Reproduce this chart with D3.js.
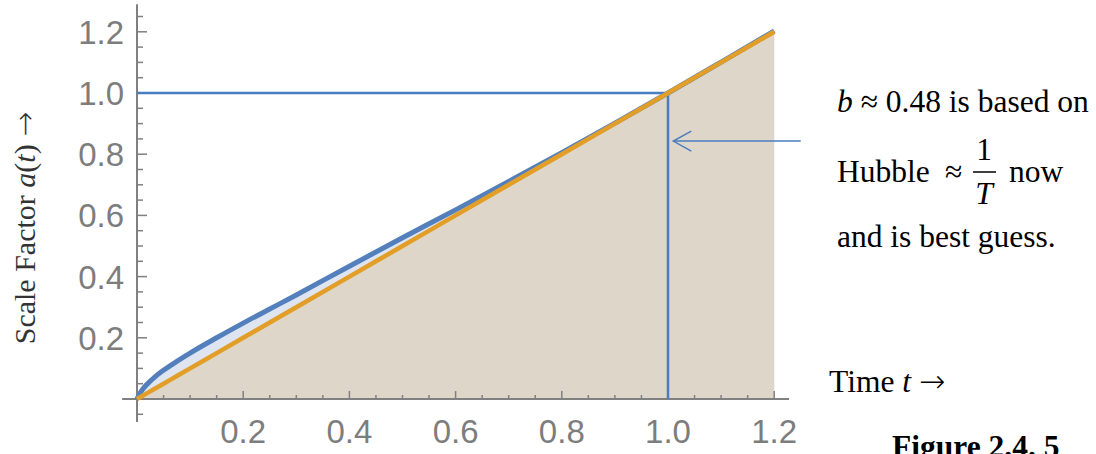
<!DOCTYPE html>
<html>
<head>
<meta charset="utf-8">
<script src="https://cdn.jsdelivr.net/npm/d3@7"></script>
<style>
  body { margin: 0; background: #fff; }
  svg { display: block; }
  .tick-label { font-family: "Liberation Sans", Arial, sans-serif; font-size: 33px; fill: #7d7d7d; }
  .note { font-family: "Liberation Serif", "Times New Roman", serif; font-size: 31.5px; fill: #000; }
  .arrow { font-family: "DejaVu Sans", sans-serif; }
</style>
</head>
<body>
<div id="chart"></div>
<script>
// time values (t) and the two scale factor series
var times = [0, 0.005, 0.01, 0.02, 0.035, 0.05, 0.075, 0.1, 0.15, 0.2, 0.25, 0.3, 0.4, 0.5, 0.6, 0.7, 0.8, 0.9, 1.0, 1.1, 1.2];
var scaleFactor = [0, 0.017, 0.03, 0.05, 0.074, 0.094, 0.123, 0.150, 0.200, 0.248, 0.294, 0.340, 0.434, 0.527, 0.618, 0.711, 0.805, 0.9015, 1.0, 1.101, 1.203];
var linearFactor = [0, 0.005, 0.01, 0.02, 0.035, 0.05, 0.075, 0.1, 0.15, 0.2, 0.25, 0.3, 0.4, 0.5, 0.6, 0.7, 0.8, 0.9, 1.0, 1.1, 1.2];

var xTickLabels = [0.2, 0.4, 0.6, 0.8, 1.0, 1.2];
var yTickLabels = [0.2, 0.4, 0.6, 0.8, 1.0, 1.2];
var nowT = 1.0;
var nowA = 1.0;
var arrowFrom = [1.25, 0.843];
var arrowTo = [1.01, 0.843];

var svgWidth = 1096;
var svgHeight = 454;

var svg = d3.select("#chart")
  .append("svg")
  .attr("width", svgWidth)
  .attr("height", svgHeight);

// scales: origin at (137, 399), one unit = 531px across, 306px up
var xScale = d3.scaleLinear().domain([0, 1]).range([137, 668]);
var yScale = d3.scaleLinear().domain([0, 1]).range([399, 93]);

var blueData = times.map((t, i) => ({ t: t, a: scaleFactor[i] }));
var orangeData = times.map((t, i) => ({ t: t, a: linearFactor[i] }));

var area = d3.area()
  .x(d => xScale(d.t))
  .y0(yScale(0))
  .y1(d => yScale(d.a))
  .curve(d3.curveMonotoneX);

var line = d3.line()
  .x(d => xScale(d.t))
  .y(d => yScale(d.a))
  .curve(d3.curveMonotoneX);

// fills first
svg.append("path").datum(blueData).attr("d", area).attr("fill", "#dfe5f0");
svg.append("path").datum(orangeData).attr("d", area).attr("fill", "#ded7c9");

// axes
var axisColor = "#808080";
svg.append("line")
  .attr("x1", xScale(-0.028)).attr("x2", xScale(1.228))
  .attr("y1", yScale(0)).attr("y2", yScale(0))
  .attr("stroke", axisColor).attr("stroke-width", 2);
svg.append("line")
  .attr("x1", xScale(0)).attr("x2", xScale(0))
  .attr("y1", yScale(1.29)).attr("y2", yScale(-0.075))
  .attr("stroke", axisColor).attr("stroke-width", 2);

// y ticks, every 0.05 with majors at 0.2
var yTickVals = d3.range(-1, 26).map(i => i * 0.05).filter(v => Math.abs(v) > 1e-9);
svg.selectAll(".ytick")
  .data(yTickVals)
  .enter()
  .append("line")
  .attr("x1", xScale(0))
  .attr("x2", d => xScale(0) + (Math.abs(d * 5 - Math.round(d * 5)) < 1e-6 ? 10 : 6))
  .attr("y1", d => yScale(d)).attr("y2", d => yScale(d))
  .attr("stroke", axisColor).attr("stroke-width", 1.5);

var xTickVals = d3.range(1, 25).map(i => i * 0.05);
svg.selectAll(".xtick")
  .data(xTickVals)
  .enter()
  .append("line")
  .attr("x1", d => xScale(d)).attr("x2", d => xScale(d))
  .attr("y1", yScale(0))
  .attr("y2", d => yScale(0) - (Math.abs(d * 5 - Math.round(d * 5)) < 1e-6 ? 8 : 4))
  .attr("stroke", axisColor).attr("stroke-width", 1.5);

svg.selectAll(".ylab")
  .data(yTickLabels)
  .enter()
  .append("text")
  .attr("class", "tick-label")
  .attr("x", xScale(0) - 13)
  .attr("y", d => yScale(d) + 12)
  .attr("text-anchor", "end")
  .text(d => d.toFixed(1));

svg.selectAll(".xlab")
  .data(xTickLabels)
  .enter()
  .append("text")
  .attr("class", "tick-label")
  .attr("x", d => xScale(d))
  .attr("y", yScale(0) + 44)
  .attr("text-anchor", "middle")
  .text(d => d.toFixed(1));

// "now" reference lines
var refBlue = "#4a7dbf";
svg.append("line")
  .attr("x1", xScale(0)).attr("x2", xScale(nowT))
  .attr("y1", yScale(nowA)).attr("y2", yScale(nowA))
  .attr("stroke", refBlue).attr("stroke-width", 2.5);
svg.append("line")
  .attr("x1", xScale(nowT)).attr("x2", xScale(nowT))
  .attr("y1", yScale(0)).attr("y2", yScale(nowA))
  .attr("stroke", refBlue).attr("stroke-width", 2.5);

// curves
svg.append("path").datum(blueData).attr("d", line)
  .attr("fill", "none").attr("stroke", "#5380bc").attr("stroke-width", 5);
svg.append("path").datum(orangeData).attr("d", line)
  .attr("fill", "none").attr("stroke", "#e29e27").attr("stroke-width", 4.5);

// annotation arrow
var ax0 = xScale(arrowFrom[0]), ay = yScale(arrowFrom[1]), ax1 = xScale(arrowTo[0]);
svg.append("line")
  .attr("x1", ax0).attr("x2", ax1).attr("y1", ay).attr("y2", ay)
  .attr("stroke", refBlue).attr("stroke-width", 1.5);
svg.append("path")
  .attr("d", `M${ax1 + 18},${ay - 10} L${ax1},${ay} L${ax1 + 18},${ay + 10}`)
  .attr("fill", "none").attr("stroke", refBlue).attr("stroke-width", 1.5);

// y axis title
var yTitle = svg.append("text")
  .attr("class", "note")
  .attr("transform", "translate(35, 228) rotate(-90)")
  .attr("text-anchor", "middle")
  .style("font-size", "30px")
  .style("fill", "#333");
yTitle.append("tspan").text("Scale Factor ");
yTitle.append("tspan").style("font-style", "italic").text("a");
yTitle.append("tspan").text("(");
yTitle.append("tspan").style("font-style", "italic").text("t");
yTitle.append("tspan").text(") ");
yTitle.append("tspan").attr("class", "arrow").style("font-weight", 200).text("\u2192");

// right hand notes
var l1 = svg.append("text").attr("class", "note").attr("x", 837).attr("y", 112);
l1.append("tspan").style("font-style", "italic").text("b");
l1.append("tspan").text(" \u2248 0.48 is based on");

svg.append("text").attr("class", "note").attr("x", 837).attr("y", 182).text("Hubble");
svg.append("text").attr("class", "note").attr("x", 945).attr("y", 182).text("\u2248");
svg.append("text").attr("class", "note").attr("x", 984).attr("y", 160)
  .attr("text-anchor", "middle").text("1");
svg.append("line")
  .attr("x1", 973).attr("x2", 996).attr("y1", 172).attr("y2", 172)
  .attr("stroke", "#000").attr("stroke-width", 1.5);
svg.append("text").attr("class", "note").attr("x", 984).attr("y", 204)
  .attr("text-anchor", "middle").style("font-style", "italic").text("T");
svg.append("text").attr("class", "note").attr("x", 1009).attr("y", 182).text("now");

svg.append("text").attr("class", "note").attr("x", 837).attr("y", 247).text("and is best guess.");

var tl = svg.append("text").attr("class", "note").attr("x", 829).attr("y", 392);
tl.append("tspan").text("Time ");
tl.append("tspan").style("font-style", "italic").text("t");
tl.append("tspan").text(" ");
tl.append("tspan").attr("class", "arrow").style("font-weight", 200).text("\u2192");

svg.append("text").attr("class", "note")
  .attr("x", 892).attr("y", 457)
  .style("font-weight", "bold")
  .text("Figure 2.4. 5");
</script>
</body>
</html>
